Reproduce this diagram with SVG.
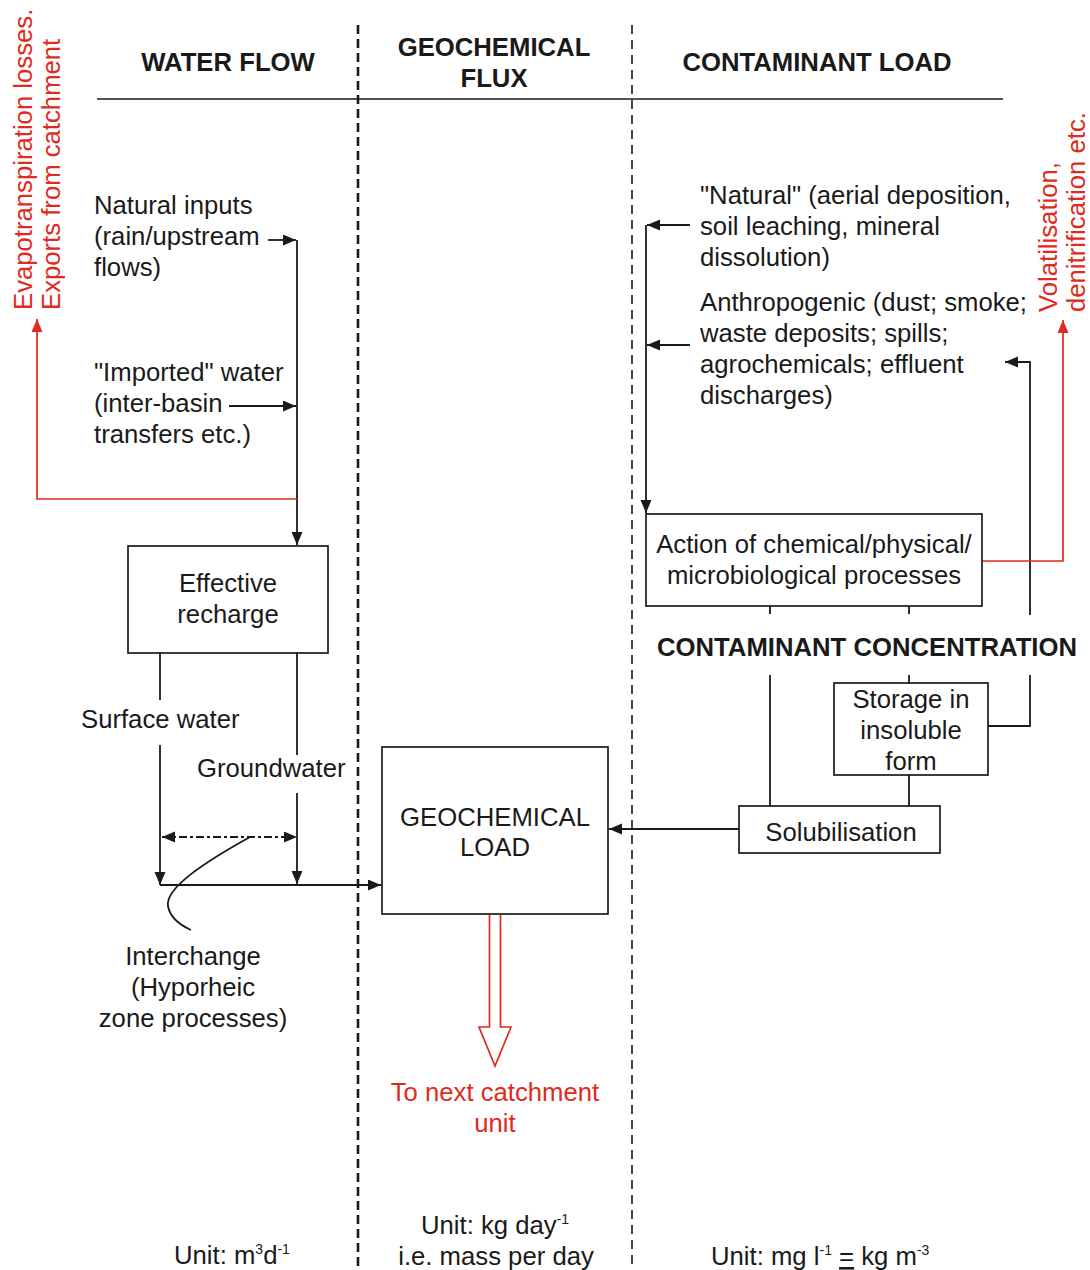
<svg xmlns="http://www.w3.org/2000/svg" width="1090" height="1270" viewBox="0 0 1090 1270">
  <style>
    text { font-family: "Liberation Sans", Arial, sans-serif; font-size: 25.7px; fill: #1a1a1a; }
    .hd { font-weight: bold; }
    .red { fill: #e02a20; }
    .mid { text-anchor: middle; }
    .box { fill: #fff; stroke: #1a1a1a; stroke-width: 1.7; }
    .ln { fill: none; stroke: #1a1a1a; stroke-width: 1.8; }
    .rl { fill: none; stroke: #e02a20; stroke-width: 1.7; }
    .sup { font-size: 14px; }
  </style>
  <defs>
    <marker id="ah" markerUnits="userSpaceOnUse" markerWidth="14" markerHeight="12" refX="13" refY="5.5" orient="auto-start-reverse">
      <path d="M0,0 L13,5.5 L0,11 z" fill="#1a1a1a"/>
    </marker>
    <marker id="ahr" markerUnits="userSpaceOnUse" markerWidth="14" markerHeight="12" refX="13" refY="5.5" orient="auto">
      <path d="M0,0 L13,5.5 L0,11 z" fill="#e02a20"/>
    </marker>
  </defs>
  <rect width="1090" height="1270" fill="#fff"/>

  <!-- column dividers and header rule -->
  <g id="frame">
    <line x1="358" y1="25" x2="358" y2="1266" stroke="#1a1a1a" stroke-width="2.6" stroke-dasharray="9 5"/>
    <line x1="632" y1="25" x2="632" y2="1266" stroke="#1a1a1a" stroke-width="1.6" stroke-dasharray="9 6"/>
    <line x1="97" y1="99" x2="1003" y2="99" stroke="#1a1a1a" stroke-width="1.7"/>
    <text class="hd mid" x="228" y="71">WATER FLOW</text>
    <text class="hd mid" x="494" y="56">GEOCHEMICAL</text>
    <text class="hd mid" x="494" y="87">FLUX</text>
    <text class="hd mid" x="817" y="71">CONTAMINANT LOAD</text>
  </g>

  <!-- connectors -->
  <g id="connectors">
    <path class="ln" d="M268,240 H296" marker-end="url(#ah)"/>
    <path class="ln" d="M229,406 H296" marker-end="url(#ah)"/>
    <path class="ln" d="M297,240 V545" marker-end="url(#ah)"/>
    <path class="rl" d="M297,499 H37 V319" marker-end="url(#ahr)"/>
    <path class="ln" d="M160,653 V700"/>
    <path class="ln" d="M160,745 V885" marker-end="url(#ah)"/>
    <path class="ln" d="M297,653 V755"/>
    <path class="ln" d="M297,793 V884" marker-end="url(#ah)"/>
    <path class="ln" d="M160,885 H381" marker-end="url(#ah)"/>
    <path class="ln" d="M162,837 H297" stroke-dasharray="8 3 3 3" marker-start="url(#ah)" marker-end="url(#ah)"/>
    <path class="ln" d="M250,837 C205,862 165,888 168,906 C170,918 180,925 191,930"/>
    <path class="ln" d="M690,225 H647" marker-end="url(#ah)"/>
    <path class="ln" d="M690,345 H647" marker-end="url(#ah)"/>
    <path class="ln" d="M646,225 V513" marker-end="url(#ah)"/>
    <path class="ln" d="M1030,615 V362 H1005" marker-end="url(#ah)"/>
    <path class="rl" d="M983,561 H1063 V320" marker-end="url(#ahr)"/>
    <path class="ln" d="M770,606 V614 M909,606 V614"/>
    <path class="ln" d="M770,675 V806 M909,675 V683 M909,775 V806"/>
    <path class="ln" d="M1030,675 V726 H988"/>
    <path class="ln" d="M739,829 H609" marker-end="url(#ah)"/>
    <path d="M489.5,915 V1027 H479 L495,1066 L511,1027 H500.5 V915" fill="#fff" stroke="#e02a20" stroke-width="1.7"/>
  </g>

  <!-- side notes -->
  <g id="evapotranspiration">
    <text class="red" transform="translate(32,310) rotate(-90)">Evapotranspiration losses.</text>
    <text class="red" transform="translate(60,310) rotate(-90)">Exports from catchment</text>
  </g>
  <g id="volatilisation">
    <text class="red" transform="translate(1057,312) rotate(-90)">Volatilisation,</text>
    <text class="red" transform="translate(1085,312) rotate(-90)">denitrification etc.</text>
  </g>

  <!-- water flow column -->
  <g id="natural-inputs">
    <text x="94" y="214">Natural inputs</text>
    <text x="94" y="245">(rain/upstream</text>
    <text x="94" y="276">flows)</text>
  </g>
  <g id="imported-water">
    <text x="94" y="381">"Imported" water</text>
    <text x="94" y="412">(inter-basin</text>
    <text x="94" y="443">transfers etc.)</text>
  </g>
  <g id="effective-recharge">
    <rect class="box" x="128" y="546" width="200" height="107"/>
    <text class="mid" x="228" y="592">Effective</text>
    <text class="mid" x="228" y="623">recharge</text>
  </g>
  <g id="surface-water">
    <text x="81" y="728">Surface water</text>
  </g>
  <g id="groundwater">
    <text x="197" y="777">Groundwater</text>
  </g>
  <g id="interchange">
    <text class="mid" x="193" y="965">Interchange</text>
    <text class="mid" x="193" y="996">(Hyporheic</text>
    <text class="mid" x="193" y="1027">zone processes)</text>
  </g>

  <!-- geochemical flux column -->
  <g id="geochemical-load">
    <rect class="box" x="382" y="747" width="226" height="167"/>
    <text class="mid" x="495" y="826">GEOCHEMICAL</text>
    <text class="mid" x="495" y="856">LOAD</text>
  </g>
  <g id="next-catchment">
    <text class="red mid" x="495" y="1101">To next catchment</text>
    <text class="red mid" x="495" y="1132">unit</text>
  </g>

  <!-- contaminant load column -->
  <g id="natural-sources">
    <text x="700" y="204">"Natural" (aerial deposition,</text>
    <text x="700" y="235">soil leaching, mineral</text>
    <text x="700" y="266">dissolution)</text>
  </g>
  <g id="anthropogenic-sources">
    <text x="700" y="311">Anthropogenic (dust; smoke;</text>
    <text x="700" y="342">waste deposits; spills;</text>
    <text x="700" y="373">agrochemicals; effluent</text>
    <text x="700" y="404">discharges)</text>
  </g>
  <g id="processes">
    <rect class="box" x="646" y="514" width="336" height="92"/>
    <text class="mid" x="814" y="553">Action of chemical/physical/</text>
    <text class="mid" x="814" y="584">microbiological processes</text>
  </g>
  <g id="contaminant-concentration">
    <text class="hd mid" x="867" y="656">CONTAMINANT CONCENTRATION</text>
  </g>
  <g id="storage">
    <rect class="box" x="834" y="683" width="154" height="92"/>
    <text class="mid" x="911" y="708">Storage in</text>
    <text class="mid" x="911" y="739">insoluble</text>
    <text class="mid" x="911" y="770">form</text>
  </g>
  <g id="solubilisation">
    <rect class="box" x="739" y="806" width="201" height="47"/>
    <text class="mid" x="841" y="841">Solubilisation</text>
  </g>

  <!-- units -->
  <g id="units">
    <text x="174" y="1264">Unit: m<tspan class="sup" dy="-10">3</tspan><tspan dy="10">d</tspan><tspan class="sup" dy="-10">-1</tspan></text>
    <text class="mid" x="495" y="1234">Unit: kg day<tspan class="sup" dy="-10">-1</tspan></text>
    <text class="mid" x="496" y="1265">i.e. mass per day</text>
    <text x="711" y="1265">Unit: mg l<tspan class="sup" dy="-10">-1</tspan><tspan dy="10"> </tspan><tspan text-decoration="underline">=</tspan> kg m<tspan class="sup" dy="-10">-3</tspan></text>
  </g>
</svg>
